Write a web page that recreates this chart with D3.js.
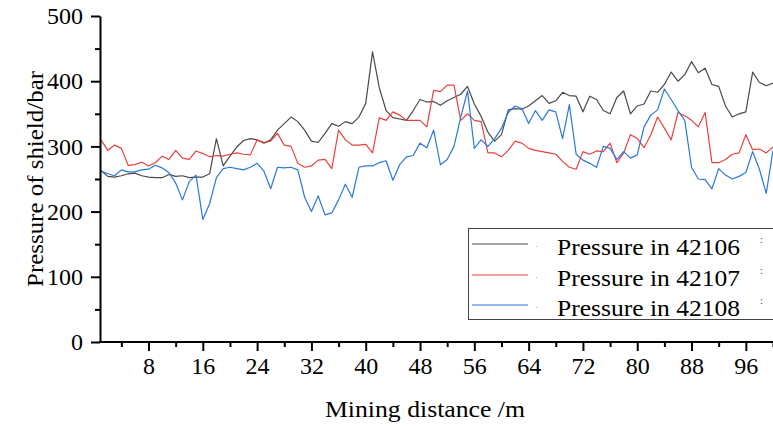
<!DOCTYPE html>
<html>
<head>
<meta charset="utf-8">
<script src="https://d3js.org/d3.v7.min.js"></script>
<style>
  body { margin: 0; background: #fff; }
  svg { display: block; }
</style>
</head>
<body>
<div id="chart"></div>
<script>
//////////////////////////////////////////////////////////////////////////
// data (shield pressure in bar, one value per metre)

var distance = [
   1,  2,  3,  4,  5,  6,  7,  8,  9, 10, 11, 12, 13, 14, 15, 16, 17, 18, 19, 20,
  21, 22, 23, 24, 25, 26, 27, 28, 29, 30, 31, 32, 33, 34, 35, 36, 37, 38, 39, 40,
  41, 42, 43, 44, 45, 46, 47, 48, 49, 50, 51, 52, 53, 54, 55, 56, 57, 58, 59, 60,
  61, 62, 63, 64, 65, 66, 67, 68, 69, 70, 71, 72, 73, 74, 75, 76, 77, 78, 79, 80,
  81, 82, 83, 84, 85, 86, 87, 88, 89, 90, 91, 92, 93, 94, 95, 96, 97, 98, 99, 100
];

var pressure42106 = [
  263, 254, 253, 255, 258, 259, 255, 253, 252, 252, 257, 254, 255, 252, 253, 253, 258, 312, 270, 285,
  299, 309, 312, 310, 305, 310, 325, 335, 345, 338, 325, 308, 306, 320, 335, 331, 338, 335, 345, 366,
  445, 390, 355, 344, 342, 340, 355, 372, 368, 369, 363, 370, 375, 380, 392, 365, 346, 322, 308, 318,
  356, 358, 357, 362, 370, 378, 366, 370, 383, 378, 377, 353, 377, 372, 355, 350, 375, 385, 350, 362,
  365, 385, 383, 395, 414, 400, 410, 430, 413, 420, 395, 392, 362, 345, 350, 353, 414, 398, 393, 397
];

var pressure42107 = [
  310, 294, 302, 297, 271, 272, 276, 270, 275, 285, 280, 294, 282, 280, 293, 289, 284, 286, 285, 288,
  290, 288, 287, 310, 306, 308, 320, 302, 300, 274, 268, 270, 279, 280, 266, 325, 310, 302, 302, 303,
  290, 344, 340, 353, 348, 340, 340, 340, 330, 386, 384, 394, 394, 340, 350, 340, 338, 290, 290, 284,
  294, 308, 305, 297, 294, 292, 290, 288, 277, 268, 265, 292, 288, 293, 292, 305, 275, 290, 318, 312,
  298, 318, 345, 328, 310, 352, 347, 340, 330, 352, 275, 275, 280, 288, 290, 318, 295, 296, 290, 299
];

var pressure42108 = [
  262, 258, 255, 264, 261, 261, 264, 265, 271, 267, 260, 244, 218, 246, 256, 188, 212, 252, 266, 268,
  266, 264, 268, 274, 262, 235, 268, 267, 268, 264, 222, 200, 224, 195, 198, 218, 242, 222, 268, 270,
  270, 275, 278, 248, 272, 284, 286, 305, 298, 325, 272, 280, 300, 345, 385, 297, 310, 300, 312, 328,
  352, 362, 358, 335, 355, 340, 356, 353, 312, 364, 288, 279, 274, 268, 300, 297, 280, 292, 282, 287,
  330, 348, 356, 388, 372, 355, 340, 268, 250, 249, 235, 266, 256, 250, 254, 260, 292, 265, 228, 294
];

var seriesNames  = ["Pressure in 42106", "Pressure in 42107", "Pressure in 42108"];
var seriesColors = ["#4a4a4a", "#e8423f", "#2a78dc"];

var xMajorTicks = [8, 16, 24, 32, 40, 48, 56, 64, 72, 80, 88, 96];
var xMinorTicks = [4, 12, 20, 28, 36, 44, 52, 60, 68, 76, 84, 92, 100];
var yMajorTicks = [0, 100, 200, 300, 400, 500];
var yMinorTicks = [50, 150, 250, 350, 450];

//////////////////////////////////////////////////////////////////////////
// layout constants

var Width = 773;
var Height = 426;
var PlotLeft = 101;     // x = 1
var PlotRight = 773;    // x = 100
var PlotTop = 16;       // y = 500
var PlotBottom = 342;   // y = 0
var FontFamily = "'Liberation Serif', 'Times New Roman', serif";

//////////////////////////////////////////////////////////////////////////

function initialize () {

    var svg = d3.select("#chart")
        .append("svg")
        .attr("width", Width)
        .attr("height", Height)
        .style("font-family", FontFamily);

    var xScale = d3.scaleLinear()
        .domain([1, 100])
        .range([PlotLeft, PlotRight]);

    var yScale = d3.scaleLinear()
        .domain([0, 500])
        .range([PlotBottom, PlotTop]);

    drawLines(svg, xScale, yScale);
    drawAxes(svg, xScale, yScale);
    drawLegend(svg);

} // end initialize

// draw the three pressure curves
function drawLines (svg, xScale, yScale) {

    var allSeries = [pressure42106, pressure42107, pressure42108];

    var line = d3.line()
        .x(function (d) { return xScale(d[0]); })
        .y(function (d) { return yScale(d[1]); });

    allSeries.forEach(function (values, i) {
        var pts = distance.map(function (x, j) { return [x, values[j]]; });
        svg.append("path")
            .datum(pts)
            .attr("fill", "none")
            .attr("stroke", seriesColors[i])
            .attr("stroke-width", 1.2)
            .attr("stroke-linejoin", "round")
            .attr("d", line);
    });

} // end drawLines

// axes with major and minor ticks, labels and titles
function drawAxes (svg, xScale, yScale) {

    // minor ticks first, so the major axis sits over them
    svg.append("g")
        .attr("transform", "translate(0," + PlotBottom + ")")
        .call(d3.axisBottom(xScale).tickValues(xMinorTicks).tickSize(5).tickFormat(""))
        .call(function (g) { g.select(".domain").remove(); })
        .selectAll("line").attr("stroke-width", 2);

    svg.append("g")
        .attr("transform", "translate(" + (PlotLeft - 1) + ",0)")
        .call(d3.axisLeft(yScale).tickValues(yMinorTicks).tickSize(5).tickFormat(""))
        .call(function (g) { g.select(".domain").remove(); })
        .selectAll("line").attr("stroke-width", 2);

    var xAxis = svg.append("g")
        .attr("transform", "translate(0," + PlotBottom + ")")
        .call(d3.axisBottom(xScale).tickValues(xMajorTicks).tickSize(9).tickSizeOuter(0).tickPadding(6));

    xAxis.select(".domain")
        .attr("d", "M" + (PlotLeft - 2) + ",0H" + PlotRight)
        .attr("stroke-width", 2);
    xAxis.selectAll("line").attr("stroke-width", 2);
    xAxis.selectAll("text")
        .style("font-family", FontFamily)
        .style("font-size", "24px")
        .attr("fill", "#000");

    var yAxis = svg.append("g")
        .attr("transform", "translate(" + (PlotLeft - 1) + ",0)")
        .call(d3.axisLeft(yScale).tickValues(yMajorTicks).tickSize(9).tickSizeOuter(0).tickPadding(8));

    yAxis.select(".domain").attr("stroke-width", 2);
    yAxis.selectAll("line").attr("stroke-width", 2);
    yAxis.selectAll("text")
        .style("font-family", FontFamily)
        .style("font-size", "24px")
        .attr("fill", "#000");

    // axis titles
    svg.append("text")
        .attr("x", 325)
        .attr("y", 417)
        .attr("textLength", 200)
        .attr("lengthAdjust", "spacingAndGlyphs")
        .style("font-family", FontFamily)
        .style("font-size", "24px")
        .text("Mining distance /m");

    svg.append("text")
        .attr("transform", "translate(43," + ((PlotTop + PlotBottom) / 2) + ") rotate(-90)")
        .attr("text-anchor", "middle")
        .attr("textLength", 216)
        .attr("lengthAdjust", "spacingAndGlyphs")
        .style("font-family", FontFamily)
        .style("font-size", "24px")
        .text("Pressure of shield/bar");

} // end drawAxes

// boxed legend at the lower right
function drawLegend (svg) {

    var boxX = 468, boxY = 228, boxH = 91;
    var rowY = [244, 275, 305];

    var legend = svg.append("g").attr("class", "legend");

    legend.append("rect")
        .attr("x", boxX + 0.5)
        .attr("y", boxY + 0.5)
        .attr("width", Width - boxX + 5)
        .attr("height", boxH)
        .attr("fill", "#fff")
        .attr("stroke", "#444")
        .attr("stroke-width", 1);

    seriesNames.forEach(function (name, i) {
        legend.append("line")
            .attr("x1", 472).attr("x2", 528)
            .attr("y1", rowY[i]).attr("y2", rowY[i])
            .attr("stroke", seriesColors[i])
            .attr("stroke-width", 1.2);

        legend.append("text")
            .attr("x", 535)
            .attr("y", rowY[i] + 5)
            .style("font-size", "8px")
            .attr("fill", "#666")
            .text("·");

        legend.append("text")
            .attr("x", 557)
            .attr("y", rowY[i] + 11)
            .attr("textLength", 183)
            .attr("lengthAdjust", "spacingAndGlyphs")
            .style("font-family", FontFamily)
            .style("font-size", "24px")
            .attr("fill", "#000")
            .text(name);

        legend.append("text")
            .attr("x", 760)
            .attr("y", rowY[i] - 1)
            .style("font-size", "10px")
            .attr("fill", "#333")
            .text(":");
    });

} // end drawLegend

initialize();
</script>
</body>
</html>
